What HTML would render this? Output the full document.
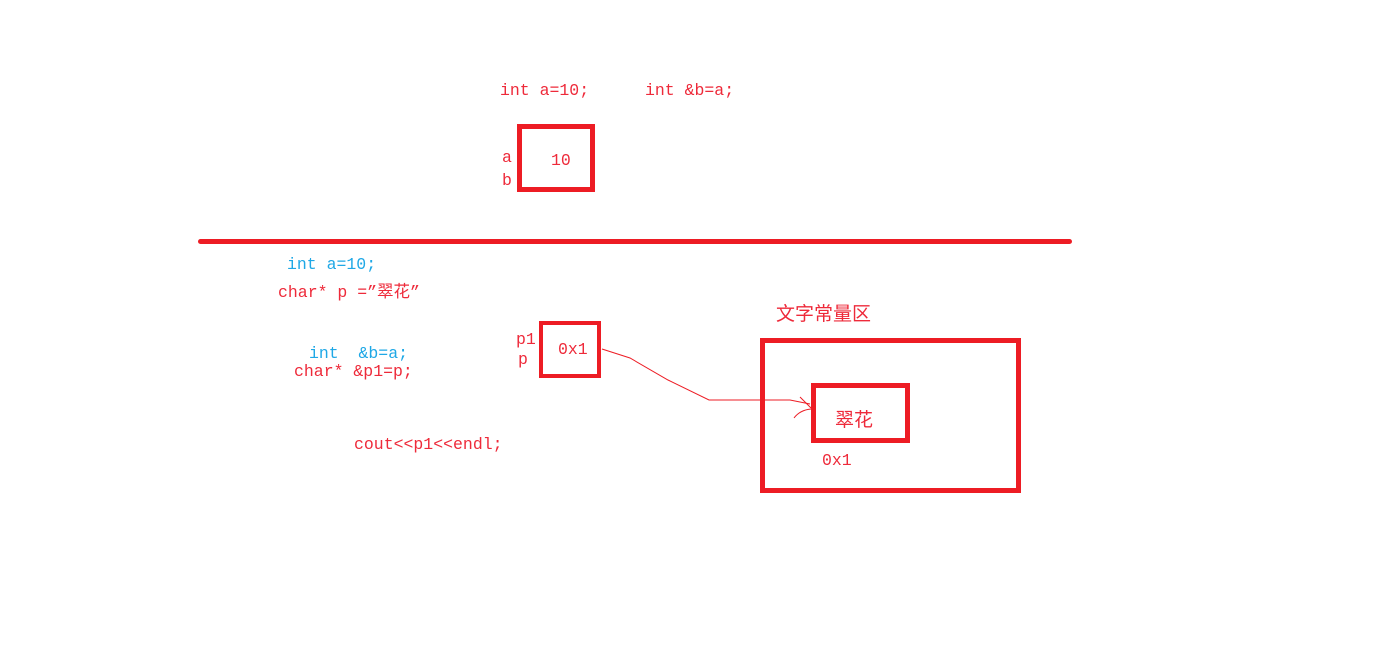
<!DOCTYPE html>
<html><head><meta charset="utf-8"><style>
body{margin:0;width:1385px;height:663px;background:#fff;position:relative;overflow:hidden;font-family:"Liberation Mono","Noto Sans CJK SC",monospace;font-size:16.5px;}
.t{position:absolute;white-space:pre;color:#ee2a3a;line-height:18px;}
.b{color:#1fa8e6;}
.box{position:absolute;border:5px solid #ed1c24;box-sizing:border-box;}
</style></head><body>
<div class="t" style="left:500px;top:82px">int a=10;</div>
<div class="t" style="left:645px;top:82px">int &amp;b=a;</div>
<div class="box" style="left:517px;top:124px;width:78px;height:68px"></div>
<div class="t" style="left:502px;top:149px">a</div>
<div class="t" style="left:502px;top:172px">b</div>
<div class="t" style="left:551px;top:152px">10</div>
<div style="position:absolute;left:198px;top:239px;width:874px;height:5px;background:#ed1c24;border-radius:3px"></div>
<div class="t b" style="left:287px;top:256px">int a=10;</div>
<div class="t" style="left:278px;top:284px">char* p =”翠花”</div>
<div class="t b" style="left:309px;top:345px">int  &amp;b=a;</div>
<div class="t" style="left:294px;top:363px">char* &amp;p1=p;</div>
<div class="t" style="left:354px;top:436px">cout&lt;&lt;p1&lt;&lt;endl;</div>
<div class="box" style="left:539px;top:321px;width:62px;height:57px;border-width:4px"></div>
<div class="t" style="left:516px;top:331px">p1</div>
<div class="t" style="left:518px;top:351px">p</div>
<div class="t" style="left:558px;top:341px">0x1</div>
<div class="t" style="left:776px;top:301px;font-family:'Noto Sans CJK SC',sans-serif;font-size:19px;line-height:24px">文字常量区</div>
<div class="box" style="left:760px;top:338px;width:261px;height:155px"></div>
<div class="box" style="left:811px;top:383px;width:99px;height:60px"></div>
<div class="t" style="left:835px;top:407px;font-family:'Noto Sans CJK SC',sans-serif;font-size:19px;line-height:24px">翠花</div>
<div class="t" style="left:822px;top:452px">0x1</div>
<svg width="1385" height="663" style="position:absolute;left:0;top:0">
<path d="M602 349 L630 358 L668 380 L709 400 L790 400 L810 404" stroke="#ed1c24" stroke-width="1" fill="none"/>
<path d="M800 397 L811 408 M794 418 Q800 410 811 409" stroke="#ed1c24" stroke-width="1" fill="none"/>
</svg>
</body></html>
